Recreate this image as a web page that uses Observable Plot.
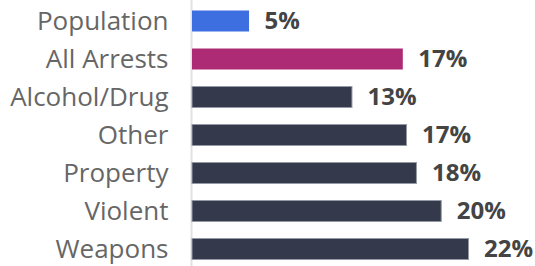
<!DOCTYPE html>
<html>
<head>
<meta charset="utf-8">
<script src="https://cdn.jsdelivr.net/npm/d3@7"></script>
<script src="https://cdn.jsdelivr.net/npm/@observablehq/plot@0.6"></script>
<style>
  html, body { margin: 0; padding: 0; background: #fff; }
  #chart svg { display: block; }
</style>
</head>
<body>
<div id="chart"></div>
<script>
const categories = ["Population", "All Arrests", "Alcohol/Drug", "Other", "Property", "Violent", "Weapons"];
const values = [4.6, 17.0, 12.9, 17.3, 18.1, 20.1, 22.3];
const valueLabels = ["5%", "17%", "13%", "17%", "18%", "20%", "22%"];
const groups = ["population", "all", "offense", "offense", "offense", "offense", "offense"];

const data = categories.map((c, i) => ({category: c, value: values[i], label: valueLabels[i], group: groups[i]}));

const chart = Plot.plot({
  width: 535,
  height: 266,
  marginLeft: 192,
  marginRight: 0,
  marginTop: 0,
  marginBottom: 0,
  style: {fontFamily: "'Open Sans', sans-serif", background: "#fff"},
  x: {domain: [0, 25], range: [192, 192 + 12.4 * 25], axis: null},
  y: {domain: categories, range: [3, 267], paddingInner: 0.426, paddingOuter: 0.15, label: null},
  color: {domain: ["population", "all", "offense"], range: ["#3e6fe0", "#ad2b74", "#343a4b"]},
  marks: [
    Plot.ruleX([0], {stroke: "#e2e2e2", strokeWidth: 2, dx: -1}),
    Plot.barX(data, {x: "value", y: "category", fill: "group", stroke: d => d.group === "offense" ? "#9499a5" : "none", strokeWidth: 1, insetTop: 0.5, insetBottom: 0.5}),
    Plot.text(data, {x: "value", y: "category", text: "label", dx: 15, textAnchor: "start", fontSize: 24, fontWeight: "bold", fill: "#444"}),
    Plot.axisY({tickSize: 0, tickPadding: 24, fontSize: 26, fill: "#666", label: null})
  ]
});
document.getElementById("chart").appendChild(chart);
</script>
</body>
</html>
